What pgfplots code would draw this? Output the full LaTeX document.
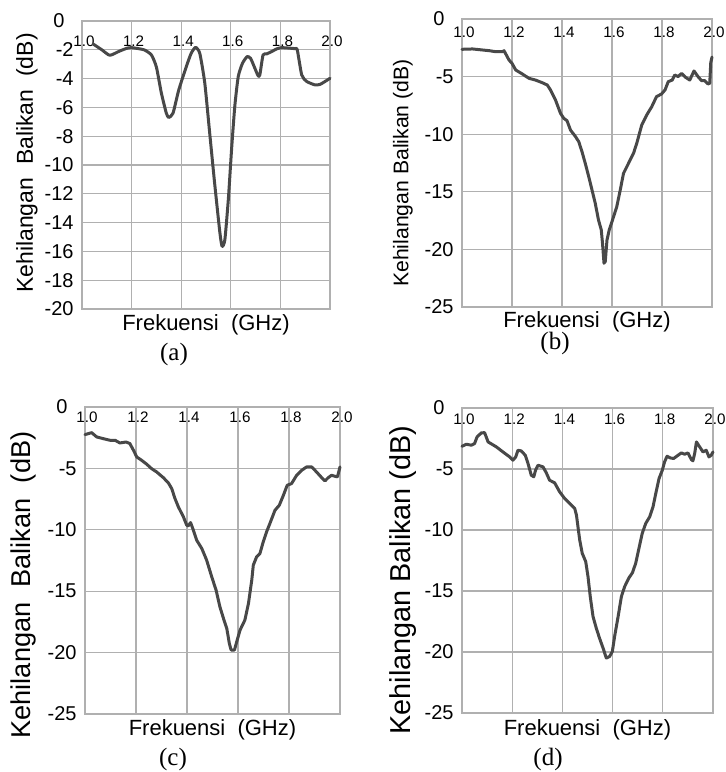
\documentclass[border=0pt]{standalone}
\usepackage{pgfplots}
\pgfplotsset{compat=1.18}
\usepackage{fontspec}
\setmainfont{Liberation Sans}
\newfontfamily\capfont{Liberation Serif}
\definecolor{curve}{HTML}{484848}
\definecolor{gridc}{HTML}{B0B0B0}
\pgfplotsset{
  rl/.style={
    scale only axis, xmin=1, xmax=2,
    xtick={1,1.2,1.4,1.6,1.8,2}, xticklabels={1.0,1.2,1.4,1.6,1.8,2.0},
    xticklabel pos=upper,
    xticklabel style={anchor=base, inner sep=0pt, xshift=1pt, font=\fontsize{7.6}{9}\selectfont},
    yticklabel style={anchor=east, inner sep=0pt, xshift=-4pt, font=\fontsize{10}{12}\selectfont},
    major tick length=0pt,
    grid=major, grid style={gridc, line width=0.55pt},
    axis line style={gridc, line width=0.6pt},
    xlabel={Frekuensi\ \ (GHz)},
    ylabel={Kehilangan\ \ Balikan\ \ (dB)},
    xlabel style={anchor=center, inner sep=0pt, font=\fontsize{11}{13}\selectfont},
    ylabel style={anchor=center, inner sep=0pt, rotate=0},
    extra y ticks={0}, extra y tick labels={0},
    extra y tick style={yticklabel style={xshift=-4.5pt}},
    clip=false,
  },
  c25/.style={ymin=-25, ymax=0, ytick={-25,-20,-15,-10,-5}, yticklabels={-25,-20,-15,-10,-5}},
  c20/.style={ymin=-20, ymax=0, ytick={-20,-18,-16,-14,-12,-10,-8,-6,-4,-2}, yticklabels={-20,-18,-16,-14,-12,-10,-8,-6,-4,-2}},
  rlc/.style={curve, line width=1.5pt, line join=round, line cap=round},
}
\pgfplotstableread{
x y
1.045 -1.6
1.08 -2.0
1.112 -2.38
1.15 -2.1
1.18 -1.9
1.2 -1.85
1.25 -2.0
1.28 -2.36
1.30 -3.2
1.32 -5.0
1.34 -6.4
1.35 -6.7
1.367 -6.4
1.39 -4.8
1.42 -3.2
1.44 -2.25
1.458 -1.83
1.475 -2.25
1.495 -4.3
1.515 -7.8
1.535 -11.3
1.556 -14.7
1.565 -15.65
1.576 -15.2
1.59 -12.4
1.603 -8.95
1.616 -5.94
1.63 -3.86
1.647 -2.94
1.666 -2.47
1.68 -2.6
1.697 -3.28
1.71 -3.8
1.717 -3.75
1.73 -2.36
1.744 -2.29
1.764 -2.13
1.785 -1.94
1.805 -1.85
1.859 -1.92
1.868 -2.0
1.886 -3.75
1.906 -4.2
1.94 -4.44
1.96 -4.4
1.98 -4.2
2.0 -3.98
}\dataA
\pgfplotstableread{
x y
1.0 -2.63
1.042 -2.6
1.082 -2.69
1.109 -2.75
1.135 -2.84
1.162 -2.84
1.168 -2.75
1.188 -3.56
1.2 -3.85
1.215 -4.43
1.241 -4.77
1.268 -5.15
1.294 -5.3
1.321 -5.53
1.341 -5.73
1.354 -6.16
1.374 -7.03
1.394 -8.19
1.407 -8.62
1.42 -8.83
1.434 -9.64
1.454 -10.21
1.467 -10.65
1.48 -11.52
1.493 -12.53
1.507 -13.69
1.52 -14.84
1.533 -16.0
1.546 -17.45
1.557 -18.3
1.562 -19.47
1.568 -21.2
1.573 -21.06
1.58 -19.18
1.589 -18.3
1.602 -17.45
1.619 -16.3
1.633 -14.84
1.646 -13.4
1.666 -12.53
1.686 -11.66
1.699 -10.79
1.719 -9.2
1.739 -8.33
1.759 -7.61
1.778 -6.74
1.798 -6.51
1.812 -6.16
1.825 -5.44
1.841 -5.3
1.851 -4.86
1.865 -5.0
1.878 -4.72
1.894 -5.06
1.911 -5.3
1.928 -4.51
1.944 -5.0
1.958 -5.35
1.971 -5.35
1.984 -5.64
1.991 -5.58
1.995 -3.8
2.0 -3.3
}\dataB
\pgfplotstableread{
x y
1.0 -2.25
1.013 -2.17
1.026 -2.09
1.046 -2.44
1.072 -2.58
1.098 -2.71
1.118 -2.71
1.137 -2.93
1.161 -2.85
1.176 -2.98
1.19 -3.52
1.203 -4.07
1.222 -4.34
1.242 -4.66
1.261 -5.02
1.281 -5.29
1.307 -5.75
1.327 -6.18
1.34 -6.64
1.353 -7.46
1.366 -8.13
1.386 -8.95
1.399 -9.63
1.405 -9.68
1.414 -9.41
1.425 -10.03
1.438 -10.85
1.458 -11.52
1.477 -12.47
1.497 -13.83
1.514 -14.91
1.529 -16.27
1.545 -17.35
1.556 -18.03
1.566 -19.25
1.573 -19.79
1.586 -19.79
1.595 -19.12
1.608 -18.17
1.627 -17.35
1.641 -16.0
1.654 -14.1
1.66 -12.88
1.673 -12.2
1.686 -11.93
1.699 -10.98
1.712 -10.17
1.725 -9.49
1.745 -8.41
1.762 -8.0
1.778 -7.19
1.793 -6.37
1.81 -6.24
1.83 -5.56
1.85 -5.15
1.869 -4.88
1.889 -4.88
1.908 -5.29
1.928 -5.75
1.941 -6.02
1.954 -5.75
1.967 -5.56
1.98 -5.64
1.99 -5.69
2.0 -4.88
}\dataC
\pgfplotstableread{
x y
1.0 -3.14
1.017 -2.97
1.037 -3.05
1.05 -2.92
1.06 -2.37
1.077 -2.04
1.09 -2.02
1.104 -2.78
1.137 -3.19
1.163 -3.6
1.19 -4.01
1.203 -4.28
1.214 -4.01
1.223 -3.46
1.236 -3.52
1.252 -3.87
1.263 -4.55
1.276 -5.51
1.286 -5.64
1.293 -5.1
1.303 -4.69
1.323 -4.83
1.336 -5.32
1.349 -5.92
1.369 -6.13
1.389 -6.87
1.409 -7.42
1.429 -7.82
1.449 -8.23
1.456 -8.78
1.462 -9.73
1.469 -10.82
1.479 -11.91
1.493 -12.6
1.502 -13.82
1.511 -15.46
1.522 -17.09
1.535 -18.05
1.548 -18.87
1.562 -19.68
1.575 -20.5
1.588 -20.37
1.599 -19.96
1.608 -18.73
1.622 -17.09
1.635 -15.46
1.648 -14.64
1.664 -13.96
1.679 -13.5
1.692 -12.73
1.705 -11.5
1.718 -10.28
1.732 -9.46
1.748 -8.91
1.761 -8.1
1.772 -7.01
1.785 -5.78
1.798 -5.1
1.807 -4.42
1.817 -3.95
1.83 -4.09
1.843 -4.14
1.861 -3.87
1.874 -3.68
1.887 -3.79
1.9 -3.68
1.914 -4.23
1.92 -4.33
1.927 -3.73
1.934 -2.78
1.947 -3.19
1.96 -3.6
1.973 -3.46
1.984 -4.01
1.993 -3.87
2.0 -3.6
}\dataD
\begin{document}
\begin{tikzpicture}
\useasboundingbox (0pt,0pt) rectangle (363pt,386pt);
% (a)
\begin{axis}[rl, c20, at={(41pt,231.5pt)}, anchor=south west, width=124pt, height=144pt,
  xticklabel style={yshift=-12.9pt},
  xlabel style={at={(rel axis cs:0.5,-0.0556)}},
  ylabel style={at={(rel axis cs:-0.222,0.507)}, rotate=0, font=\fontsize{11.5}{13}\selectfont}]
\addplot[rlc, smooth, tension=0.35] table {\dataA};
\end{axis}
% (b)
\begin{axis}[rl, c25, at={(231pt,232.5pt)}, anchor=south west, width=125pt, height=144pt,
  xticklabel style={yshift=-9.4pt},
  xlabel style={at={(rel axis cs:0.5,-0.052)}},
  ylabel={Kehilangan Balikan (dB)},
  ylabel style={at={(rel axis cs:-0.236,0.465)}, font=\fontsize{10.6}{12}\selectfont}]
\addplot[rlc] table {\dataB};
\end{axis}
% (c)
\begin{axis}[rl, c25, at={(42.5pt,29pt)}, anchor=south west, width=127.5pt, height=153.5pt,
  xticklabel style={yshift=-7.9pt},
  xlabel style={at={(rel axis cs:0.5,-0.052)}},
  ylabel style={at={(rel axis cs:-0.243,0.42)}, font=\fontsize{13.6}{15}\selectfont}]
\addplot[rlc] table {\dataC};
\end{axis}
% (d)
\begin{axis}[rl, c25, at={(231pt,29.5pt)}, anchor=south west, width=125.5pt, height=152.5pt,
  xticklabel style={yshift=-8.4pt},
  xlabel style={at={(rel axis cs:0.5,-0.056)}},
  ylabel={Kehilangan Balikan (dB)},
  ylabel style={at={(rel axis cs:-0.235,0.436)}, font=\fontsize{14.4}{16}\selectfont}]
\addplot[rlc] table {\dataD};
\end{axis}
\node[font=\capfont\fontsize{12.5}{14}\selectfont] at (87pt,209pt) {(a)};
\node[font=\capfont\fontsize{12.5}{14}\selectfont] at (277.5pt,214.5pt) {(b)};
\node[font=\capfont\fontsize{12.5}{14}\selectfont] at (86.5pt,6.5pt) {(c)};
\node[font=\capfont\fontsize{12.5}{14}\selectfont] at (274pt,6.5pt) {(d)};
\end{tikzpicture}
\end{document}
